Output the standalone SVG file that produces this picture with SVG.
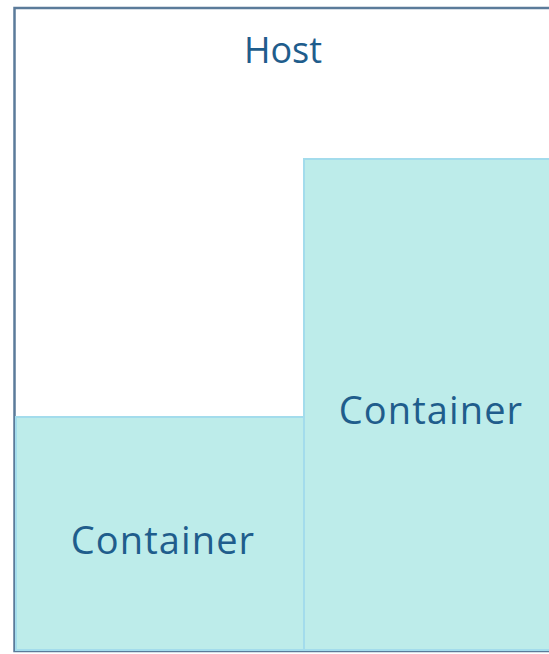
<svg xmlns="http://www.w3.org/2000/svg" width="549" height="654" viewBox="0 0 549 654">
<style>
.host{fill:#ffffff;stroke:#5b7b9a;stroke-width:2.5}
.cont{fill:#bdecea;stroke:#a3dcec;stroke-width:2}
.lbl{font-family:"Open Sans","Liberation Sans",sans-serif;fill:#1f5d8c;text-anchor:middle}
.c{font-size:38px;letter-spacing:1.1px}
</style>
<g id="host">
<rect class="host" x="14.5" y="8" width="540" height="643"/>
<text class="lbl" x="283" y="63" font-size="36">Host</text>
</g>
<g id="container-left">
<rect class="cont" x="16" y="417" width="288" height="233"/>
<text class="lbl c" x="163" y="554">Container</text>
</g>
<g id="container-right">
<rect class="cont" x="304" y="159" width="250" height="491"/>
<text class="lbl c" x="431" y="424">Container</text>
</g>
<g id="connectors"></g>
</svg>
